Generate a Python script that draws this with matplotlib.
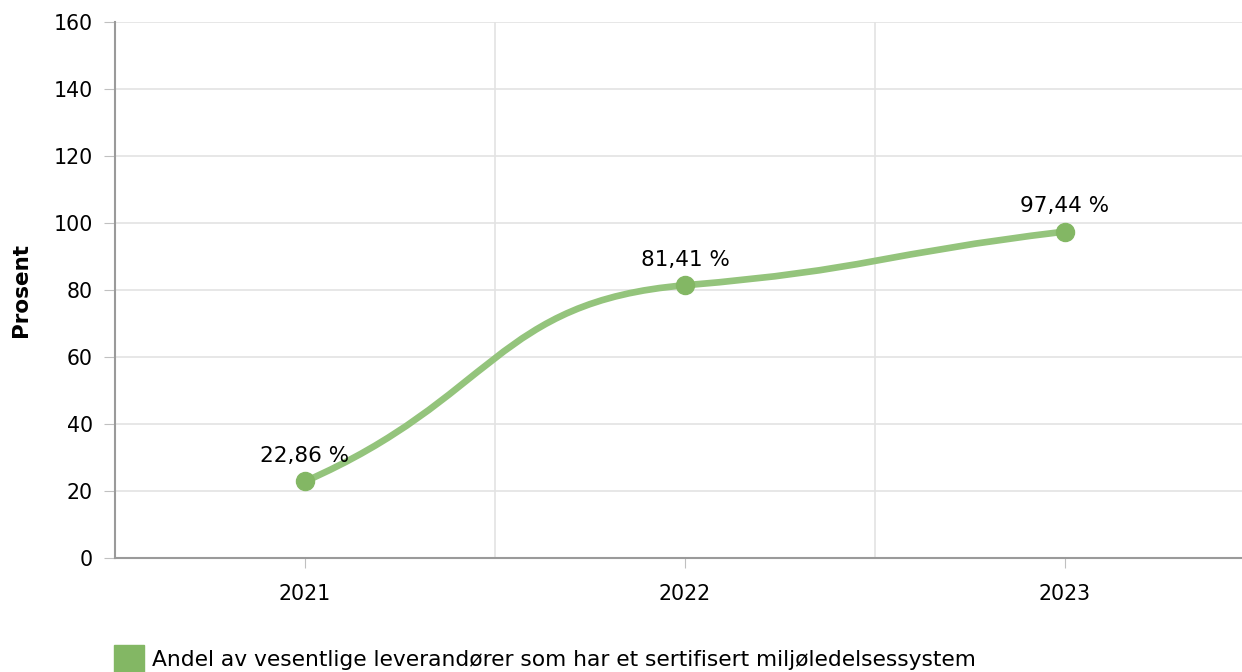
import numpy as np
import matplotlib.pyplot as plt
from matplotlib.path import Path
from matplotlib.patches import PathPatch, Rectangle

plt.rcParams['font.family'] = ['DejaVu Sans']

years = ["2021", "2022", "2023"]
values = [22.86, 81.41, 97.44]
labels = ["22,86 %", "81,41 %", "97,44 %"]
series_name = "Andel av vesentlige leverandører som har et sertifisert miljøledelsessystem"

line_color = "#94c47c"
dot_color = "#83b764"


def smooth_path(xs, ys, end_k=0.85, mid_k=0.6, handle=0.5):
    # cubic bezier through the points with damped tangents
    n = len(xs)
    sec = [(ys[i + 1] - ys[i]) / (xs[i + 1] - xs[i]) for i in range(n - 1)]
    tan = []
    for i in range(n):
        if i == 0:
            tan.append(end_k * sec[0])
        elif i == n - 1:
            tan.append(end_k * sec[-1])
        else:
            a, b = sec[i - 1], sec[i]
            tan.append(0 if a * b <= 0 else mid_k * np.sign(a) * min(abs(a), abs(b)))
    verts = [(xs[0], ys[0])]
    codes = [Path.MOVETO]
    for i in range(n - 1):
        h = handle * (xs[i + 1] - xs[i])
        verts += [(xs[i] + h, ys[i] + h * tan[i]),
                  (xs[i + 1] - h, ys[i + 1] - h * tan[i + 1]),
                  (xs[i + 1], ys[i + 1])]
        codes += [Path.CURVE4] * 3
    return Path(verts, codes)


W, H = 1242, 672
fig = plt.figure(figsize=(W / 100, H / 100), dpi=100)
ax = fig.add_axes([115 / W, 1 - 558 / H, 1140 / W, 536 / H])

x = np.arange(len(years))
ax.add_patch(PathPatch(smooth_path(list(x), values), fill=False,
                       edgecolor=line_color, lw=4.8, capstyle="round", zorder=3))
ax.plot(x, values, "o", color=dot_color, ms=13, zorder=4)
for xi, v, lab in zip(x, values, labels):
    ax.annotate(lab, (xi, v), xytext=(0, 11), textcoords="offset points",
                ha="center", va="bottom", fontsize=15.5, color="#000000")

ax.set_xlim(-0.5, 2.5)
ax.set_ylim(0, 160)
ax.set_yticks(range(0, 161, 20))
ax.set_xticks(x)
ax.set_xticklabels(years)
ax.set_xticks([0.5, 1.5], minor=True)

ax.grid(axis="y", color="#e3e3e3", lw=1.2)
ax.grid(axis="x", which="minor", color="#e3e3e3", lw=1.2)
ax.set_axisbelow(True)

for s in ["top", "right"]:
    ax.spines[s].set_visible(False)
for s in ["left", "bottom"]:
    ax.spines[s].set_color("#9a9a9a")
    ax.spines[s].set_linewidth(1.5)

ax.tick_params(axis="y", length=8, color="#c0c0c0", labelsize=14.8, pad=8)
ax.tick_params(axis="x", which="major", length=7, color="#c0c0c0", labelsize=14.8, pad=12)
ax.tick_params(axis="x", which="minor", length=0)

ax.set_ylabel("Prosent", fontsize=15.5, fontweight="bold", labelpad=16)

fig.patches.append(Rectangle((114 / W, 1 - 672 / H), 30 / W, 27 / H,
                             transform=fig.transFigure, color=dot_color))
fig.text(152 / W, 1 - 660 / H, series_name, fontsize=15.7, va="center", ha="left")

fig.savefig("out.png", dpi=100)
